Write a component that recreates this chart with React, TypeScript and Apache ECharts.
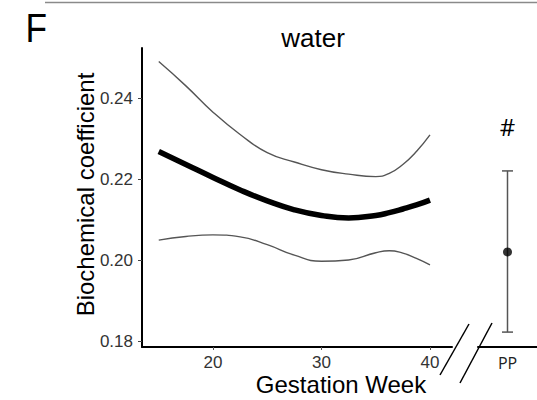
import React, { useEffect, useRef } from 'react';
import * as echarts from 'echarts';

const weeks = [15, 17.5, 20, 22.5, 25, 27.5, 30, 32.5, 35, 36.25, 37.5, 38.75, 40];
const fitValues = [0.2268, 0.2236, 0.2204, 0.2173, 0.2146, 0.2124, 0.211, 0.2104, 0.211, 0.2117, 0.2126, 0.2136, 0.2148];
const upperValues = [0.249, 0.243, 0.2365, 0.231, 0.2265, 0.2242, 0.2223, 0.2212, 0.2206, 0.2214, 0.2236, 0.2268, 0.2309];
const lowerValues = [0.2049, 0.2058, 0.2062, 0.2057, 0.2038, 0.2012, 0.1997, 0.2, 0.2018, 0.2023, 0.2017, 0.2004, 0.1988];

const xTicks = [20, 30, 40];
const yTicks = [0.18, 0.2, 0.22, 0.24];

const ppCategories = ['PP'];
const ppMean = [0.202];
const ppLower = [0.1822];
const ppUpper = [0.222];
const ppMarks = ['#'];

const Y_MIN = 0.17852;
const Y_MAX = 0.25235;

export default function App() {
  const ref = useRef<HTMLDivElement>(null);

  useEffect(() => {
    if (!ref.current) return;
    const chart = echarts.init(ref.current, undefined, { renderer: 'svg' });
    const font = 'Liberation Sans, Arial, sans-serif';
    const pair = (xs: number[], ys: number[]) => xs.map((x, i) => [x, ys[i]]);

    const option: any = {
      animation: false,
      backgroundColor: '#ffffff',
      grid: [
        { left: 142, top: 48, width: 310, height: 299 },
        { left: 478, top: 48, width: 76, height: 299 },
      ],
      xAxis: [
        {
          type: 'value',
          gridIndex: 0,
          min: 13.456,
          max: 42.03,
          splitLine: { show: false },
          axisLine: { show: true, lineStyle: { color: '#000', width: 2 } },
          axisTick: { show: true, length: 3, lineStyle: { color: '#555' }, customValues: xTicks },
          axisLabel: {
            show: true,
            customValues: xTicks,
            fontSize: 17,
            lineHeight: 14,
            color: '#333',
            fontFamily: font,
            margin: 8,
          },
        },
        {
          type: 'category',
          gridIndex: 1,
          data: ppCategories,
          axisLine: { show: true, lineStyle: { color: '#000', width: 2 } },
          axisTick: { show: false },
          axisLabel: { show: true, fontSize: 16, color: '#222', fontFamily: 'Open Sans, sans-serif', margin: 8 },
          splitLine: { show: false },
        },
      ],
      yAxis: [
        {
          type: 'value',
          gridIndex: 0,
          min: Y_MIN,
          max: Y_MAX,
          splitLine: { show: false },
          axisLine: { show: true, lineStyle: { color: '#000', width: 2 } },
          axisTick: { show: true, length: 4, lineStyle: { color: '#444' }, customValues: yTicks },
          axisLabel: {
            show: true,
            customValues: yTicks,
            fontSize: 17,
            color: '#333',
            fontFamily: font,
            margin: 9,
            formatter: (v: number) => v.toFixed(2),
          },
        },
        {
          type: 'value',
          gridIndex: 1,
          min: Y_MIN,
          max: Y_MAX,
          show: false,
          splitLine: { show: false },
        },
      ],
      series: [
        {
          type: 'line',
          name: 'upper',
          xAxisIndex: 0,
          yAxisIndex: 0,
          data: pair(weeks, upperValues),
          smooth: true,
          showSymbol: false,
          lineStyle: { color: '#555', width: 1.4 },
        },
        {
          type: 'line',
          name: 'lower',
          xAxisIndex: 0,
          yAxisIndex: 0,
          data: pair(weeks, lowerValues),
          smooth: true,
          showSymbol: false,
          lineStyle: { color: '#555', width: 1.4 },
        },
        {
          type: 'line',
          name: 'fit',
          xAxisIndex: 0,
          yAxisIndex: 0,
          data: pair(weeks, fitValues),
          smooth: true,
          showSymbol: false,
          lineStyle: { color: '#000', width: 5.5 },
        },
        {
          type: 'custom',
          xAxisIndex: 1,
          yAxisIndex: 1,
          data: ppCategories.map((c, i) => [i, ppLower[i], ppUpper[i]]),
          encode: { x: 0, y: [1, 2] },
          renderItem: (params: any, api: any) => {
            const idx = api.value(0);
            const lo = api.coord([idx, api.value(1)]);
            const hi = api.coord([idx, api.value(2)]);
            const half = 5.5;
            const st = { stroke: '#555', lineWidth: 1.5 };
            return {
              type: 'group',
              children: [
                { type: 'line', shape: { x1: lo[0], y1: lo[1], x2: hi[0], y2: hi[1] }, style: st },
                { type: 'line', shape: { x1: lo[0] - half, y1: lo[1], x2: lo[0] + half, y2: lo[1] }, style: st },
                { type: 'line', shape: { x1: hi[0] - half, y1: hi[1], x2: hi[0] + half, y2: hi[1] }, style: st },
                {
                  type: 'text',
                  x: hi[0],
                  y: hi[1] - 44,
                  style: {
                    text: ppMarks[params.dataIndex],
                    fontSize: 24,
                    fontFamily: 'Open Sans, sans-serif',
                    fill: '#000',
                    align: 'center',
                    verticalAlign: 'middle',
                  },
                },
              ],
            };
          },
        },
        {
          type: 'scatter',
          xAxisIndex: 1,
          yAxisIndex: 1,
          data: ppCategories.map((c, i) => [i, ppMean[i]]),
          symbol: 'circle',
          symbolSize: 9,
          itemStyle: { color: '#000' },
          z: 5,
        },
      ],
      graphic: [
        { type: 'line', shape: { x1: 45, y1: 2.5, x2: 537, y2: 2.5 }, style: { stroke: '#8a8a8a', lineWidth: 1.5 } },
        {
          type: 'text',
          x: 25.5,
          y: 28.5,
          scaleX: 0.88,
          style: { text: 'F', fontSize: 40, fontFamily: font, fill: '#000', align: 'left', verticalAlign: 'middle' },
        },
        {
          type: 'text',
          x: 313,
          y: 38,
          style: { text: 'water', fontSize: 26, fontFamily: font, fill: '#000', align: 'center', verticalAlign: 'middle' },
        },
        {
          type: 'text',
          x: 341,
          y: 384,
          style: {
            text: 'Gestation Week',
            fontSize: 24,
            lineHeight: 20,
            fontFamily: font,
            fill: '#000',
            align: 'center',
            verticalAlign: 'middle',
          },
        },
        {
          type: 'text',
          x: 85,
          y: 194.5,
          rotation: Math.PI / 2,
          style: { text: 'Biochemical coefficient', fontSize: 24, fontFamily: font, fill: '#000', align: 'center', verticalAlign: 'middle' },
        },
        { type: 'line', shape: { x1: 440, y1: 375, x2: 469, y2: 324 }, style: { stroke: '#000', lineWidth: 1.5 } },
        { type: 'line', shape: { x1: 460, y1: 383, x2: 492, y2: 323 }, style: { stroke: '#000', lineWidth: 1.5 } },
      ],
    };

    chart.setOption(option);
    return () => chart.dispose();
  }, []);

  return <div ref={ref} style={{ position: 'fixed', left: 0, top: 0, width: 537, height: 400 }} />;
}
